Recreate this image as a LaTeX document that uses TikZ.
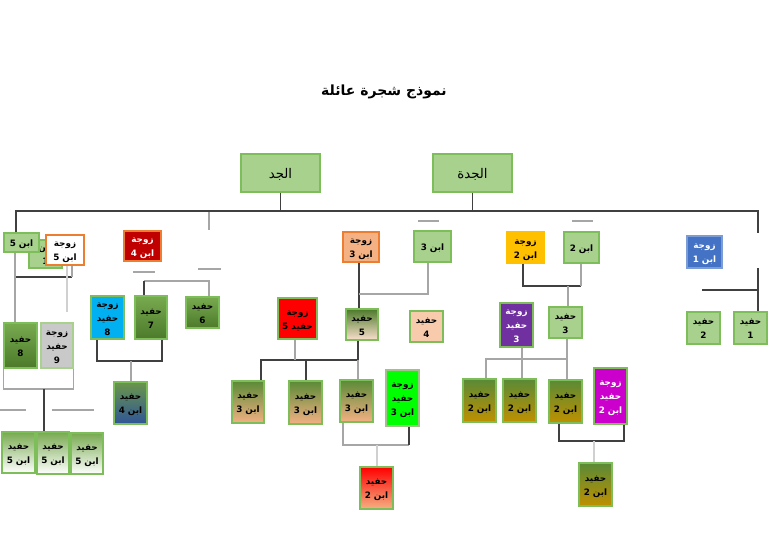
\documentclass[tikz,border=0pt]{standalone}
\usepackage{fontspec}
\usetikzlibrary{fit}
\newfontfamily\arabicfont[Script=Arabic]{DejaVu Sans}
\TeXXeTstate=1
\newcommand\RL[1]{\beginR#1\endR}
\newcommand\T[1]{\raisebox{\dimexpr -0.55em - 0.9pt + 0.2\baselineskip\relax}[0pt][0pt]{\begin{tabular}{@{}c@{}}#1\end{tabular}}}
\definecolor{lgfill}{HTML}{A9D18E}
\definecolor{gbord}{HTML}{7DBE5A}
\definecolor{ggreen}{HTML}{5A8A36}
\definecolor{ggreenL}{HTML}{78AA50}
\definecolor{ggreenD}{HTML}{4C7A2A}
\definecolor{peach}{HTML}{F4B183}
\definecolor{lpeach}{HTML}{F8CBAD}
\definecolor{orng}{HTML}{ED7D31}
\definecolor{dred}{HTML}{C00000}
\definecolor{cyanb}{HTML}{00B0F0}
\definecolor{greyb}{HTML}{C9C9C9}
\definecolor{gold}{HTML}{FFC000}
\definecolor{olive}{HTML}{BF9000}
\definecolor{blueb}{HTML}{4472C4}
\definecolor{dblue}{HTML}{2F5597}
\definecolor{purp}{HTML}{7030A0}
\definecolor{magb}{HTML}{CC00CC}
\definecolor{lineD}{HTML}{404040}
\definecolor{lineG}{HTML}{A6A6A6}
\definecolor{lineL}{HTML}{D0D0D0}
\tikzset{
  box/.style={draw=gbord, line width=0.9pt, inner sep=0pt,
    font=\arabicfont\bfseries\fontsize{6.6}{10.5}\selectfont},
  lgbox/.style={box, fill=lgfill},
  grad/.style={box, top color=ggreenL, bottom color=ggreenD},
  gwhite/.style={box, top color=ggreenL, bottom color=white},
  gblue/.style={box, top color=ggreen!90, bottom color=dblue},
  gpale/.style={box, top color=ggreenD, bottom color=peach!40},
  gpeach/.style={box, top color=ggreen, bottom color=peach},
  gred/.style={box, top color=red, bottom color=peach},
  golive/.style={box, top color=ggreen, bottom color=olive},
  dk/.style={draw=lineD, line width=0.9pt},
  gr/.style={draw=lineG, line width=0.9pt},
  lt/.style={draw=lineL, line width=0.9pt},
}
\begin{document}
\begin{tikzpicture}[x=0.75pt,y=-0.75pt]
\useasboundingbox[fill=white] (0,0) rectangle (768,543);

% title
\node[font=\arabicfont\bfseries\fontsize{10.5}{12}\selectfont] (title) at (384,92) {\RL{نموذج شجرة عائلة}};

% grandparents
\node[lgbox, fit={(241,154)(320,192)}, font=\arabicfont\fontsize{10}{12}\selectfont] (jd) {\T{\RL{الجد}}};
\node[lgbox, fit={(433,154)(512,192)}, font=\arabicfont\fontsize{10}{12}\selectfont] (jda) {\T{\RL{الجدة}}};

% left group
\node[lgbox, fit={(29,240)(62,268)}] (a1h) {\T{\RL{ابن}\\\RL{1}}};
\node[lgbox, fit={(4,233)(39,252)}] (a5) {\T{\RL{ابن 5}}};
\node[box, draw=orng, fill=white, fit={(46,235)(84,265)}] (wa5) {\T{\RL{زوجة}\\\RL{ابن 5}}};
\node[box, draw=orng, fill=dred, text=white, fit={(124,231)(161,261)}] (wa4) {\T{\RL{زوجة}\\\RL{ابن 4}}};
\node[box, fill=cyanb, fit={(91,296)(124,339)}] (wh8) {\T{\RL{زوجة}\\\RL{حفيد}\\\RL{8}}};
\node[grad, fit={(135,296)(167,339)}] (h7) {\T{\RL{حفيد}\\\RL{7}}};
\node[grad, fit={(186,297)(219,328)}] (h6) {\T{\RL{حفيد}\\\RL{6}}};
\node[grad, fit={(4,323)(37,368)}] (h8) {\T{\RL{حفيد}\\\RL{8}}};
\node[box, draw=lgfill, fill=greyb, fit={(41,323)(73,368)}] (wh9) {\T{\RL{زوجة}\\\RL{حفيد}\\\RL{9}}};
\node[gwhite, fit={(2,432)(35,473)}] (g5a) {\T{\RL{حفيد}\\\RL{ابن 5}}};
\node[gwhite, fit={(37,432)(69,474)}] (g5b) {\T{\RL{حفيد}\\\RL{ابن 5}}};
\node[gwhite, fit={(71,433)(103,474)}] (g5c) {\T{\RL{حفيد}\\\RL{ابن 5}}};
\node[gblue, fit={(114,382)(147,424)}] (g4) {\T{\RL{حفيد}\\\RL{ابن 4}}};

% centre group
\node[box, draw=orng, fill=peach, fit={(343,232)(379,262)}] (wa3) {\T{\RL{زوجة}\\\RL{ابن 3}}};
\node[lgbox, fit={(414,231)(451,262)}] (a3) {\T{\RL{ابن 3}}};
\node[box, fill=red, fit={(278,298)(317,339)}] (wh5) {\T{\RL{زوجة}\\\RL{حفيد 5}}};
\node[gpale, fit={(346,309)(378,340)}] (h5) {\T{\RL{حفيد}\\\RL{5}}};
\node[box, fill=lpeach, fit={(410,311)(443,342)}] (h4) {\T{\RL{حفيد}\\\RL{4}}};
\node[gpeach, fit={(232,381)(264,423)}] (g3a) {\T{\RL{حفيد}\\\RL{ابن 3}}};
\node[gpeach, fit={(289,381)(322,424)}] (g3b) {\T{\RL{حفيد}\\\RL{ابن 3}}};
\node[gpeach, fit={(340,380)(373,422)}] (g3c) {\T{\RL{حفيد}\\\RL{ابن 3}}};
\node[box, draw=lgfill!80!gray, fill=green, fit={(386,370)(419,426)}] (wg3) {\T{\RL{زوجة}\\\RL{حفيد}\\\RL{ابن 3}}};
\node[gred, fit={(360,467)(393,509)}] (rg2) {\T{\RL{حفيد}\\\RL{ابن 2}}};

% right group
\node[box, draw=gold, fill=gold, fit={(507,232)(544,263)}] (wa2) {\T{\RL{زوجة}\\\RL{ابن 2}}};
\node[lgbox, fit={(564,232)(599,263)}] (a2) {\T{\RL{ابن 2}}};
\node[box, draw=blueb!70!white, fill=blueb, text=white, fit={(687,236)(722,268)}] (wa1) {\T{\RL{زوجة}\\\RL{ابن 1}}};
\node[box, fill=purp, text=white, fit={(500,303)(533,347)}] (wh3) {\T{\RL{زوجة}\\\RL{حفيد}\\\RL{3}}};
\node[lgbox, fit={(549,307)(582,338)}] (h3) {\T{\RL{حفيد}\\\RL{3}}};
\node[lgbox, fit={(687,312)(720,344)}] (h2) {\T{\RL{حفيد}\\\RL{2}}};
\node[lgbox, fit={(734,312)(767,344)}] (h1) {\T{\RL{حفيد}\\\RL{1}}};
\node[golive, fit={(463,379)(496,422)}] (o1) {\T{\RL{حفيد}\\\RL{ابن 2}}};
\node[golive, fit={(503,379)(536,422)}] (o2) {\T{\RL{حفيد}\\\RL{ابن 2}}};
\node[golive, fit={(549,380)(582,423)}] (o3) {\T{\RL{حفيد}\\\RL{ابن 2}}};
\node[box, fill=magb, text=white, fit={(594,368)(627,424)}] (wo) {\T{\RL{زوجة}\\\RL{حفيد}\\\RL{ابن 2}}};
\node[golive, fit={(579,463)(612,506)}] (o4) {\T{\RL{حفيد}\\\RL{ابن 2}}};

% main bar
\coordinate (tl) at (16,211);
\coordinate (tr) at (758,211);
\coordinate (tre) at (758,233);
\draw[dk] (a5.north -| tl) -- (tl) -- (tr) -- (tre);
\draw[dk] (jd.south) -- (jd.south |- tl);
\draw[dk] (jda.south) -- (jda.south |- tl);

% far right
\coordinate (r1) at (758,268);
\coordinate (r2) at (702,290);
\draw[dk] (r1) -- (r1 |- h1.north);
\draw[dk] (r2) -- (r2 -| r1);

% left group lines
\coordinate (L1) at (16,277);
\coordinate (L2) at (72,277);
\coordinate (L3) at (15,260);
\coordinate (L4) at (67,312);
\coordinate (L5) at (44,389);
\draw[dk] (L1) -- (L2);
\draw[gr] (L2) -- (L2 |- wa5.south);
\draw[gr] (L3 |- a5.south) -- (L3 |- h8.north);
\draw[lt] (L4 |- wa5.south) -- (L4);
\draw[gr] (h8.south west) -- (h8.south west |- L5) -- (wh9.south east |- L5) -- (wh9.south east);
\draw[dk] (L5) -- (L5 |- g5b.north);

\coordinate (M1) at (144,281);
\coordinate (M2) at (209,281);
\coordinate (M3) at (97,361);
\coordinate (M4) at (162,361);
\coordinate (M5) at (131,361);
\draw[gr] (M1) -- (M2) -- (M2 |- h6.north);
\draw[dk] (M1) -- (M1 |- h7.north);
\draw[dk] (M3 |- wh8.south) -- (M3) -- (M4) -- (M4 |- h7.south);
\draw[gr] (M5) -- (M5 |- g4.north);

% centre lines
\coordinate (C1) at (359,294);
\coordinate (C2) at (428,294);
\coordinate (C3) at (261,360);
\coordinate (C4) at (358,360);
\coordinate (C5) at (295,360);
\coordinate (C6) at (306,360);
\coordinate (C7) at (343,445);
\coordinate (C8) at (409,445);
\coordinate (C9) at (377,445);
\draw[dk] (C1 |- wa3.south) -- (C1 |- h5.north);
\draw[gr] (C1) -- (C2) -- (C2 |- a3.south);
\draw[dk] (C4 |- h5.south) -- (C4) -- (C3) -- (C3 |- g3a.north);
\draw[gr] (C5 |- wh5.south) -- (C5);
\draw[dk] (C6) -- (C6 |- g3b.north);
\draw[gr] (C4) -- (C4 |- g3c.north);
\draw[gr] (C7 |- g3c.south) -- (C7) -- (C8);
\draw[dk] (C8) -- (C8 |- wg3.south);
\draw[lt] (C9) -- (C9 |- rg2.north);

% right lines
\coordinate (R1) at (523,286);
\coordinate (R2) at (581,286);
\coordinate (R3) at (568,286);
\coordinate (R4) at (486,359);
\coordinate (R5) at (567,359);
\coordinate (R6) at (522,359);
\coordinate (R7) at (559,441);
\coordinate (R8) at (624,441);
\coordinate (R9) at (594,441);
\draw[dk] (R1 |- wa2.south) -- (R1) -- (R2);
\draw[gr] (R2) -- (R2 |- a2.south);
\draw[gr] (R3) -- (R3 |- h3.north);
\draw[gr] (R6 |- wh3.south) -- (R6);
\draw[gr] (R5 |- h3.south) -- (R5) -- (R4) -- (R4 |- o1.north);
\draw[gr] (R6) -- (R6 |- o2.north);
\draw[gr] (R5) -- (R5 |- o3.north);
\draw[dk] (R7 |- o3.south) -- (R7) -- (R8) -- (R8 |- wo.south);
\draw[lt] (R9) -- (R9 |- o4.north);

% stray stubs
\coordinate (s1a) at (209,212); \coordinate (s1b) at (209,230);
\coordinate (s2a) at (133,272); \coordinate (s2b) at (155,272);
\coordinate (s3a) at (198,269); \coordinate (s3b) at (221,269);
\coordinate (s4a) at (418,221); \coordinate (s4b) at (439,221);
\coordinate (s5a) at (572,221); \coordinate (s5b) at (593,221);
\coordinate (s6a) at (0,410);   \coordinate (s6b) at (26,410);
\coordinate (s7a) at (52,410);  \coordinate (s7b) at (94,410);
\draw[gr] (s1a) -- (s1b);
\draw[gr] (s2a) -- (s2b);
\draw[gr] (s3a) -- (s3b);
\draw[gr] (s4a) -- (s4b);
\draw[gr] (s5a) -- (s5b);
\draw[gr] (s6a) -- (s6b);
\draw[gr] (s7a) -- (s7b);
\end{tikzpicture}
\end{document}
